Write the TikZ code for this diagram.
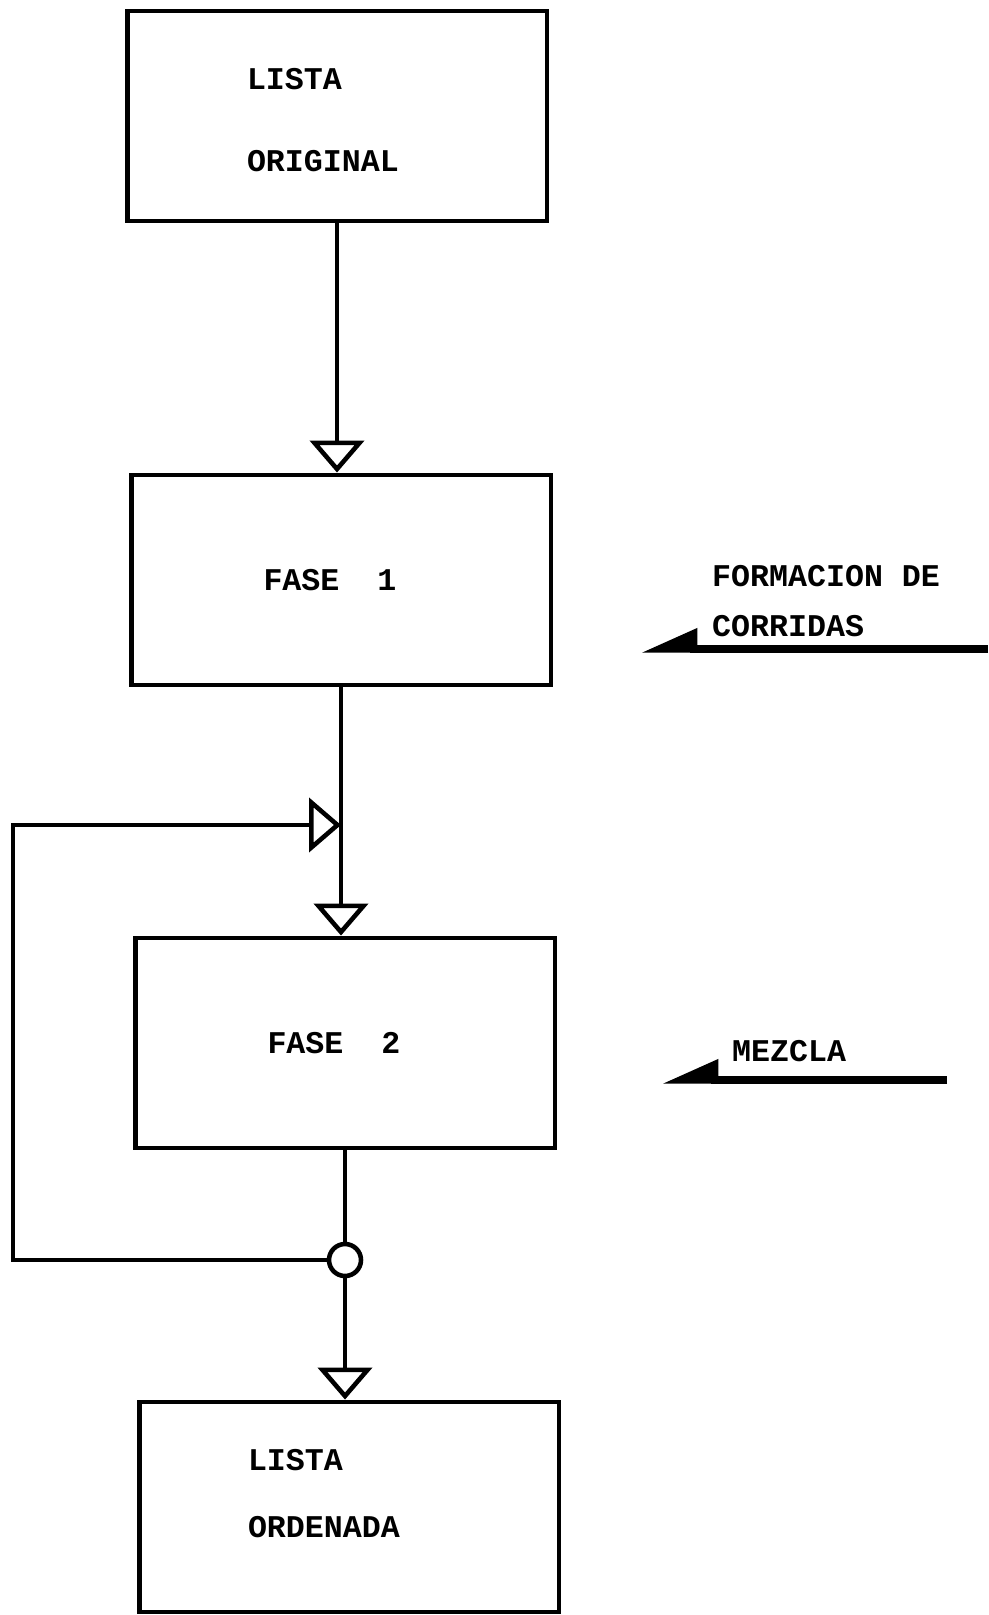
\documentclass[tikz,border=0pt]{standalone}
\usepackage{fontspec}
\setmonofont{Liberation Mono}
\usetikzlibrary{positioning,arrows.meta,calc}

\begin{document}
\begin{tikzpicture}[x=0.02cm, y=-0.02cm,
  every node/.style={font=\ttfamily\bfseries\fontsize{18}{22}\selectfont},
  %% Node styles
  procbox/.style={
    draw, line width=2.8pt, minimum width=8.4cm, minimum height=4.2cm,
    align=left, inner sep=0pt,
  },
  joint/.style={
    circle, draw, line width=2.6pt, minimum size=0.64cm, inner sep=0pt,
  },
  note/.style={anchor=west, align=left},
  %% Edge styles
  link/.style={line width=2.6pt},
  flow/.style={line width=2.6pt,
    -{Triangle[open, length=0.64cm, width=1.08cm, line width=2.6pt]}},
  side/.style={line width=4.2pt,
    -{Triangle[harpoon, swap, length=0.95cm, width=0.8cm]}},
]
\useasboundingbox (0,0) rectangle (988,1615);

%% =============================================================
%%  Main column
%% =============================================================
\node[procbox, text width=3.6cm, text height=0.58cm] (orig) at (337, 116)
    {LISTA\\[25pt]ORIGINAL};
\node[procbox, text width=3.1cm] (fase1) at (341, 580) {FASE\hspace{1.2em}1};
\node[procbox, text width=3.1cm] (fase2) at (345, 1043) {FASE\hspace{1.2em}2};
\node[procbox, text width=4.04cm, text depth=1.87cm] (orden) at (349, 1507)
    {LISTA\\[16pt]ORDENADA};

\coordinate (merge) at (341, 825);
\node[joint] (split) at (345, 1260) {};
\coordinate (back) at (13, 1260);

\draw[flow] (orig.south) -- (orig.south |- fase1.north);
\draw[link] (fase1.south) -- (merge);
\draw[flow] (merge) -- (merge |- fase2.north);
\draw[link] (fase2.south) -- (split);
\draw[flow] (split) -- (split |- orden.north);

%% Feedback loop back into phase 2
\draw[flow] (split) -- (back) |- (merge);

%% =============================================================
%%  Side notes
%% =============================================================
\node[note] (runs) at (706, 601) {FORMACION DE\\[6.5pt]CORRIDAS};
\coordinate (runsR) at (988, 649);
\coordinate (runsL) at (641, 649);
\draw[side] (runsR) -- (runsL);

\node[note] (merge note) at (726, 1051) {MEZCLA};
\coordinate (mixR) at (947, 1080);
\coordinate (mixL) at (662, 1080);
\draw[side] (mixR) -- (mixL);

\end{tikzpicture}
\end{document}
